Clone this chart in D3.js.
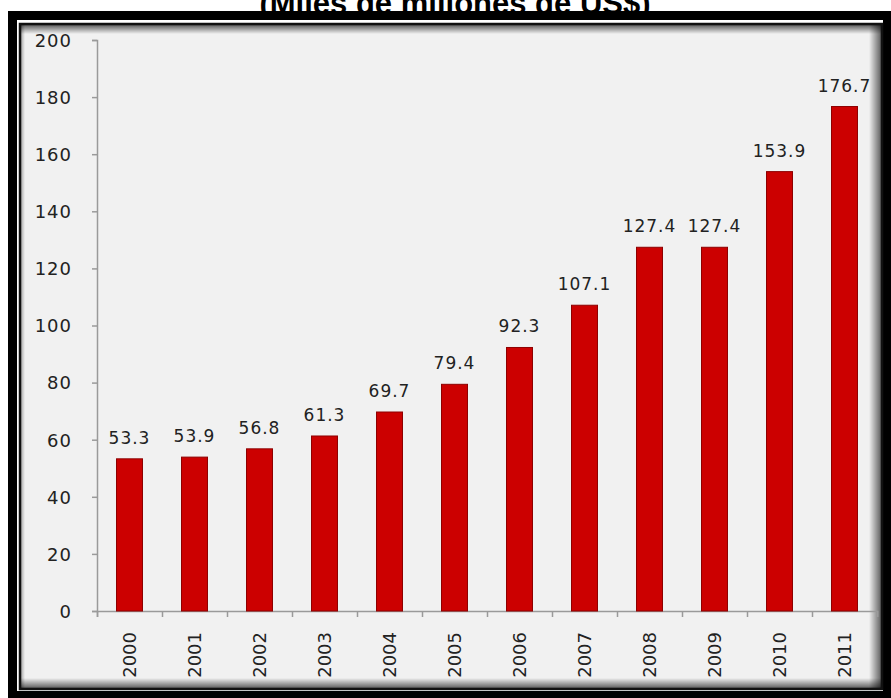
<!DOCTYPE html>
<html>
<head>
<meta charset="utf-8">
<script src="https://cdn.jsdelivr.net/npm/d3@7"></script>
<style>
  html, body { margin: 0; padding: 0; background: #fff; }
  svg { display: block; }
</style>
</head>
<body>
<svg id="chart" width="891" height="698"></svg>
<script>
const title = "(Miles de millones de US$)";
const years = ["2000","2001","2002","2003","2004","2005","2006","2007","2008","2009","2010","2011"];
const values = [53.3, 53.9, 56.8, 61.3, 69.7, 79.4, 92.3, 107.1, 127.4, 127.4, 153.9, 176.7];
const valueLabels = ["53.3","53.9","56.8","61.3","69.7","79.4","92.3","107.1","127.4","127.4","153.9","176.7"];
const yTicks = [0, 20, 40, 60, 80, 100, 120, 140, 160, 180, 200];

const svg = d3.select("#chart");
const W = 891, H = 698;

svg.append("rect").attr("width", W).attr("height", H).attr("fill", "#fff");

// Title (partially hidden behind frame)
svg.append("text")
  .attr("x", 455).attr("y", 14)
  .attr("text-anchor", "middle")
  .attr("font-family", "Liberation Sans, Arial, sans-serif")
  .attr("font-weight", "bold")
  .attr("font-size", 31)
  .attr("fill", "#000")
  .text(title);

// Frame
svg.append("rect").attr("x", 8).attr("y", 11).attr("width", W - 8).attr("height", H - 11).attr("fill", "#000");
svg.append("rect").attr("x", 17).attr("y", 20).attr("width", 866).attr("height", 671).attr("fill", "#fff");
svg.append("rect").attr("x", 20).attr("y", 24).attr("width", 862).attr("height", 665)
  .attr("fill", "#f1f1f1").attr("stroke", "#111").attr("stroke-width", 2.5);

// inner shadow (top, right, bottom)
const defs = svg.append("defs");
function grad(id, x1, y1, x2, y2) {
  const g = defs.append("linearGradient").attr("id", id)
    .attr("x1", x1).attr("y1", y1).attr("x2", x2).attr("y2", y2);
  g.append("stop").attr("offset", "0%").attr("stop-color", "#000").attr("stop-opacity", 0.6);
  g.append("stop").attr("offset", "100%").attr("stop-color", "#000").attr("stop-opacity", 0);
}
grad("gTop", 0, 0, 0, 1);
grad("gRight", 1, 0, 0, 0);
grad("gBottom", 0, 1, 0, 0);
grad("gLeft", 0, 0, 1, 0);
svg.append("rect").attr("x", 21).attr("y", 25).attr("width", 860).attr("height", 9).attr("fill", "url(#gTop)");
svg.append("rect").attr("x", 869).attr("y", 25).attr("width", 12).attr("height", 663).attr("fill", "url(#gRight)");
svg.append("rect").attr("x", 21).attr("y", 678).attr("width", 860).attr("height", 10).attr("fill", "url(#gBottom)");
svg.append("rect").attr("x", 21).attr("y", 25).attr("width", 4).attr("height", 663).attr("fill", "url(#gLeft)").attr("opacity", 0.5);

// Scales
const y = d3.scaleLinear().domain([0, 200]).range([611, 40]);
const x = d3.scaleBand().domain(years).range([97, 877]).paddingInner(0.6).paddingOuter(0.3);

const font = "DejaVu Sans, Verdana, sans-serif";
const axisColor = "#9a9a9a";

// Y axis
const yAxis = svg.append("g").attr("transform", "translate(97,0)")
  .call(d3.axisLeft(y).tickValues(yTicks).tickSize(5).tickPadding(20).tickFormat(d3.format("d")));
yAxis.select(".domain").attr("stroke", axisColor).attr("stroke-width", 1.5);
yAxis.selectAll(".tick line").attr("stroke", axisColor).attr("stroke-width", 1.5);
yAxis.selectAll(".tick text")
  .attr("font-family", font).attr("font-size", 18).attr("fill", "#222")
  .attr("letter-spacing", 1).attr("dy", "0.35em");

// X axis with ticks at category boundaries
const step = x.step();
const boundaries = years.map(d => x(d) - (step - x.bandwidth()) / 2).concat([877]);
const xb = d3.scaleLinear().domain([97, 877]).range([97, 877]);
const xAxis = svg.append("g").attr("transform", "translate(0,611)")
  .call(d3.axisBottom(xb).tickValues(boundaries).tickSize(6).tickFormat(""));
xAxis.select(".domain").attr("stroke", axisColor).attr("stroke-width", 1.5);
xAxis.selectAll(".tick line").attr("stroke", axisColor).attr("stroke-width", 1.5);

// X labels (rotated)
svg.append("g").selectAll("text").data(years).join("text")
  .attr("transform", d => `translate(${x(d) + x.bandwidth() / 2},632) rotate(-90)`)
  .attr("text-anchor", "end")
  .attr("dy", "0.35em")
  .attr("font-family", font).attr("font-size", 18).attr("fill", "#222")
  .text(d => d);

// Bars
svg.append("g").selectAll("rect").data(values).join("rect")
  .attr("x", (d, i) => x(years[i]))
  .attr("y", d => y(d))
  .attr("width", x.bandwidth())
  .attr("height", d => y(0) - y(d))
  .attr("fill", "#cc0000")
  .attr("stroke", "#8e0000")
  .attr("stroke-width", 1);

// Value labels
svg.append("g").selectAll("text").data(values).join("text")
  .attr("x", (d, i) => x(years[i]) + x.bandwidth() / 2)
  .attr("y", d => y(d) - 15)
  .attr("text-anchor", "middle")
  .attr("font-family", font).attr("font-size", 17).attr("fill", "#222")
  .attr("letter-spacing", 1)
  .text((d, i) => valueLabels[i]);
</script>
</body>
</html>
